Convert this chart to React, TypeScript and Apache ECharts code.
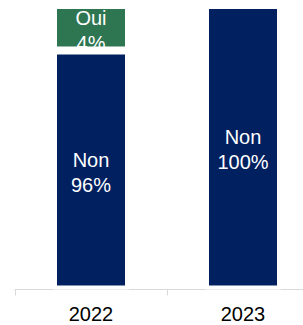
import React, { useEffect, useRef } from "react";
import * as echarts from "echarts";

const years = ["2022", "2023"];
// bar heights as drawn in the picture (share of the plot height)
const nonHeights = [84, 100];
const ouiHeights = [16, 0];
// printed labels
const nonLabels = ["96%", "100%"];
const ouiLabels = ["4%", ""];

export default function App() {
  const ref = useRef<HTMLDivElement>(null);
  useEffect(() => {
    if (!ref.current) return;
    const chart = echarts.init(ref.current, undefined, { renderer: "svg" });
    const labelBase = {
      show: true,
      position: "inside" as const,
      color: "#ffffff",
      fontSize: 20,
      lineHeight: 25,
      fontFamily: "Liberation Sans, Arial, sans-serif",
    };
    chart.setOption({
      animation: false,
      grid: { left: 15, width: 304, top: 5, bottom: 35.5, outerBoundsMode: "none", containLabel: false },
      xAxis: {
        type: "category",
        data: years,
        axisLine: { lineStyle: { color: "#d9d9d9", width: 1 } },
        axisTick: { show: true, length: 6, lineStyle: { color: "#d9d9d9" } },
        axisLabel: {
          color: "#000000",
          fontSize: 20,
          margin: 14,
          fontFamily: "Liberation Sans, Arial, sans-serif",
        },
      },
      yAxis: { type: "value", min: 0, max: 100, show: false, splitLine: { show: false } },
      series: [
        {
          type: "bar",
          stack: "s",
          barWidth: 76,
          data: nonHeights,
          itemStyle: { color: "#002060", borderColor: "#ffffff", borderWidth: 4 },
          label: {
            ...labelBase,
            offset: [0, 2],
            formatter: (p: any) => `Non\n${nonLabels[p.dataIndex]}`,
          },
        },
        {
          type: "bar",
          stack: "s",
          barWidth: 76,
          data: ouiHeights,
          itemStyle: { color: "#2E7552", borderColor: "#ffffff", borderWidth: 4 },
          label: {
            ...labelBase,
            offset: [0, 3],
            formatter: (p: any) => (ouiLabels[p.dataIndex] ? `Oui\n${ouiLabels[p.dataIndex]}` : ""),
          },
        },
      ],
    });
    return () => chart.dispose();
  }, []);
  return <div ref={ref} style={{ width: 303, height: 325, position: "absolute", left: 0, top: 0 }} />;
}
